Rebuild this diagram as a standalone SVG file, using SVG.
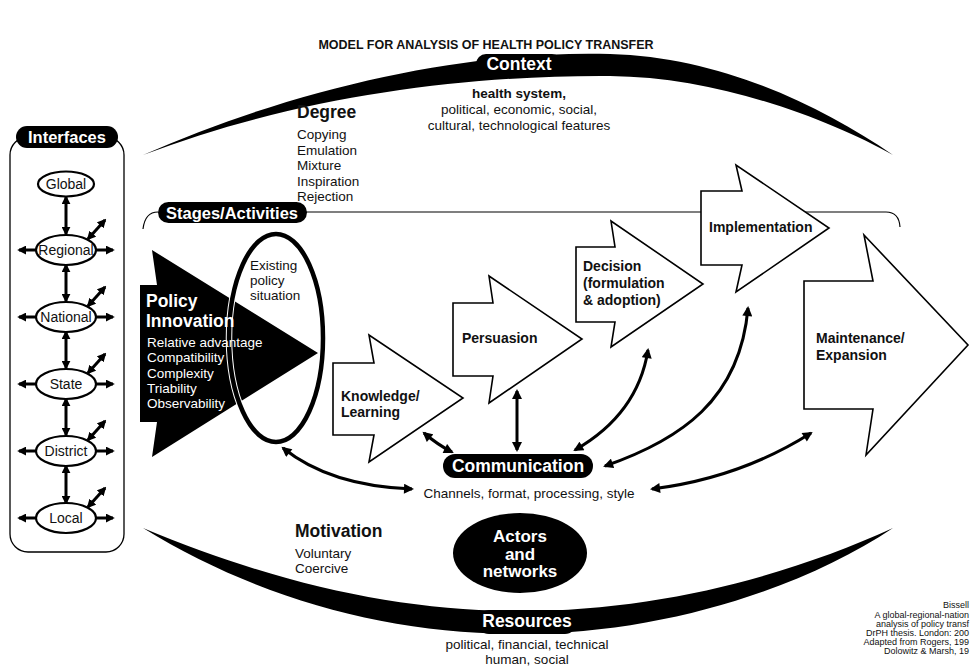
<svg xmlns="http://www.w3.org/2000/svg" width="971" height="666" viewBox="0 0 971 666">
<defs>
<style>
text{font-family:"Liberation Sans",Arial,sans-serif;fill:#111}
.b{font-weight:bold}
.w{fill:#fff}
.t13{font-size:13.5px}
.lbl{font-size:14px;font-weight:bold}
.hd{font-size:17.5px;font-weight:bold}
.ol{fill:#fff;stroke:#000;stroke-width:1.6;stroke-linejoin:miter}
.iel{fill:#fff;stroke:#000;stroke-width:2.2}
.ia{fill:none;stroke:#000;stroke-width:3;marker-start:url(#ah);marker-end:url(#ah)}
.ia1{fill:none;stroke:#000;stroke-width:3;marker-end:url(#ah)}
.con{fill:none;stroke:#000;stroke-width:3;marker-start:url(#ah2);marker-end:url(#ah2)}
.itx{font-size:14px;text-anchor:middle}
.cite{font-size:9px;text-anchor:end}
</style>
<marker id="ah" viewBox="0 0 10 10" refX="8" refY="5" markerUnits="userSpaceOnUse" markerWidth="9" markerHeight="9" orient="auto-start-reverse"><path d="M0,0 L10,5 L0,10 Z" fill="#000"/></marker>
<marker id="ah2" viewBox="0 0 10 10" refX="8" refY="5" markerUnits="userSpaceOnUse" markerWidth="11" markerHeight="10" orient="auto-start-reverse"><path d="M0,0 L10,5 L0,10 Z" fill="#000"/></marker>
</defs>
<rect width="971" height="666" fill="#fff"/>

<text x="486" y="49" text-anchor="middle" class="b" style="font-size:12.5px">MODEL FOR ANALYSIS OF HEALTH POLICY TRANSFER</text>

<g id="context">
<path d="M143,155 C300,86 470,50 610,54 C720,57 820,105 893,155 C830,120 720,77 610,76 C470,75 300,95 143,155 Z" fill="#000"/>
<rect x="476" y="54" width="86" height="21" rx="10" fill="#000"/>
<text x="519" y="70" text-anchor="middle" class="hd w">Context</text>
<text x="519" y="98" text-anchor="middle" class="t13 b">health system,</text>
<text x="519" y="114" text-anchor="middle" class="t13">political, economic, social,</text>
<text x="519" y="130" text-anchor="middle" class="t13">cultural, technological features</text>
</g>

<g id="degree">
<text x="297" y="118" class="hd">Degree</text>
<text x="297" y="139" class="t13">Copying</text>
<text x="297" y="155" class="t13">Emulation</text>
<text x="297" y="170" class="t13">Mixture</text>
<text x="297" y="186" class="t13">Inspiration</text>
<text x="297" y="201" class="t13">Rejection</text>
</g>

<g id="resources">
<path d="M143,528 C280,585 400,611 520,611 C660,611 790,575 893,528 C800,590 660,634 520,634 C390,634 260,600 143,528 Z" fill="#000"/>
<rect x="478" y="610" width="98" height="24" rx="11" fill="#000"/>
<text x="527" y="627" text-anchor="middle" class="hd w">Resources</text>
<text x="527" y="649" text-anchor="middle" class="t13">political, financial, technical</text>
<text x="527" y="664" text-anchor="middle" class="t13">human, social</text>
</g>

<g id="interfaces">
<rect x="10" y="137" width="114" height="415" rx="18" fill="none" stroke="#000" stroke-width="1.3"/>
<rect x="16" y="126" width="102" height="22" rx="11" fill="#000"/>
<text x="67" y="143" text-anchor="middle" class="w b" style="font-size:16.5px">Interfaces</text>
</g>

<g id="interface-arrows">
<line x1="66" y1="197" x2="66" y2="234" class="ia"/>
<line x1="66" y1="265" x2="66" y2="301" class="ia"/>
<line x1="66" y1="332" x2="66" y2="368" class="ia"/>
<line x1="66" y1="399" x2="66" y2="435" class="ia"/>
<line x1="66" y1="466" x2="66" y2="503" class="ia"/>
<g id="side-arrows">
<line x1="36" y1="250" x2="19" y2="250" class="ia1"/><line x1="96" y1="250" x2="113" y2="250" class="ia1"/><line x1="88" y1="239" x2="105" y2="220" class="ia"/>
<line x1="36" y1="317" x2="19" y2="317" class="ia1"/><line x1="96" y1="317" x2="113" y2="317" class="ia1"/><line x1="88" y1="306" x2="105" y2="287" class="ia"/>
<line x1="36" y1="384" x2="19" y2="384" class="ia1"/><line x1="96" y1="384" x2="113" y2="384" class="ia1"/><line x1="88" y1="373" x2="105" y2="354" class="ia"/>
<line x1="36" y1="451" x2="19" y2="451" class="ia1"/><line x1="96" y1="451" x2="113" y2="451" class="ia1"/><line x1="88" y1="440" x2="105" y2="421" class="ia"/>
<line x1="36" y1="518" x2="19" y2="518" class="ia1"/><line x1="96" y1="518" x2="113" y2="518" class="ia1"/><line x1="88" y1="507" x2="105" y2="488" class="ia"/>
</g>
</g>
<g id="global"><ellipse cx="66" cy="184" rx="28" ry="12.5" class="iel"/><text x="66" y="189" class="itx">Global</text></g>
<g id="regional"><ellipse cx="66" cy="250" rx="30" ry="15" class="iel"/><text x="66" y="255" class="itx">Regional</text></g>
<g id="national"><ellipse cx="66" cy="317" rx="30" ry="15" class="iel"/><text x="66" y="322" class="itx">National</text></g>
<g id="state"><ellipse cx="66" cy="384" rx="30" ry="15" class="iel"/><text x="66" y="389" class="itx">State</text></g>
<g id="district"><ellipse cx="66" cy="451" rx="30" ry="15" class="iel"/><text x="66" y="456" class="itx">District</text></g>
<g id="local"><ellipse cx="66" cy="518" rx="30" ry="15" class="iel"/><text x="66" y="523" class="itx">Local</text></g>

<g id="stages">
<path d="M158,212 Q145,212 143,229" fill="none" stroke="#000" stroke-width="1.2"/>
<path d="M306,212 L886,212 Q899,212 900,227" fill="none" stroke="#000" stroke-width="1.2"/>
<rect x="158" y="202" width="149" height="21" rx="10.5" fill="#000"/>
<text x="232" y="219" text-anchor="middle" class="w b" style="font-size:16.5px">Stages/Activities</text>
</g>

<g id="policy-innovation">
<path d="M140,285 L157,285 L152,250 L318,353 L152,457 L157,422 L140,422 Z" fill="#000"/>
</g>

<g id="existing-policy">
<ellipse cx="276" cy="338" rx="47" ry="104" fill="none" stroke="#fff" stroke-width="6.5"/>
<ellipse cx="276" cy="338" rx="47" ry="104" fill="none" stroke="#000" stroke-width="4.5"/>
<text x="250" y="270" class="t13">Existing</text>
<text x="250" y="285" class="t13">policy</text>
<text x="250" y="300" class="t13">situation</text>
</g>

<g id="policy-innovation-text">
<text x="146" y="307" class="hd w">Policy</text>
<text x="146" y="327" class="hd w">Innovation</text>
<text x="147" y="347" class="t13 w">Relative advantage</text>
<text x="147" y="362" class="t13 w">Compatibility</text>
<text x="147" y="378" class="t13 w">Complexity</text>
<text x="147" y="393" class="t13 w">Triability</text>
<text x="147" y="408" class="t13 w">Observability</text>
</g>

<g id="knowledge">
<path d="M333,363 L374,363 L369,335 L463,398 L369,462 L374,435 L333,435 Z" class="ol"/>
<text x="341" y="401" class="lbl">Knowledge/</text>
<text x="341" y="417" class="lbl">Learning</text>
</g>
<g id="persuasion">
<path d="M453,303 L493,303 L489,276 L582,339 L489,403 L493,376 L453,376 Z" class="ol"/>
<text x="462" y="343" class="lbl">Persuasion</text>
</g>
<g id="decision">
<path d="M576,247 L615,247 L611,221 L703,284 L611,347 L615,322 L576,322 Z" class="ol"/>
<text x="583" y="271" class="lbl">Decision</text>
<text x="583" y="288" class="lbl">(formulation</text>
<text x="583" y="305" class="lbl">&amp; adoption)</text>
</g>
<g id="implementation">
<path d="M701,191 L742,191 L736,165 L829,228 L736,292 L742,265 L701,265 Z" class="ol"/>
<text x="709" y="232" class="lbl">Implementation</text>
</g>
<g id="maintenance">
<path d="M804,281 L873,281 L864,235 L968,345 L866,455 L873,409 L804,409 Z" class="ol"/>
<text x="816" y="343" class="lbl">Maintenance/</text>
<text x="816" y="360" class="lbl">Expansion</text>
</g>

<g id="connectors">
<path d="M283,448 Q330,486 412,489" class="con"/>
<path d="M424,433 Q438,445 452,452" class="con"/>
<path d="M517,391 L517,450" class="con"/>
<path d="M575,450 C610,430 640,400 648,350" class="con"/>
<path d="M605,466 C680,440 740,400 748,308" class="con"/>
<path d="M652,489 Q740,478 811,433" class="con"/>
</g>

<g id="communication">
<rect x="443" y="454" width="150" height="24" rx="12" fill="#000"/>
<text x="518" y="472" text-anchor="middle" class="hd w">Communication</text>
<text x="529" y="498" text-anchor="middle" class="t13">Channels, format, processing, style</text>
</g>

<g id="actors">
<ellipse cx="520" cy="553" rx="67" ry="40" fill="#000"/>
<text x="520" y="542" text-anchor="middle" class="w b" style="font-size:17px">Actors</text>
<text x="520" y="559.5" text-anchor="middle" class="w b" style="font-size:17px">and</text>
<text x="520" y="577" text-anchor="middle" class="w b" style="font-size:17px">networks</text>
</g>

<g id="motivation">
<text x="295" y="537" class="hd">Motivation</text>
<text x="295" y="558" class="t13">Voluntary</text>
<text x="295" y="573" class="t13">Coercive</text>
</g>

<g id="citation">
<text x="969" y="608" class="cite">Bissell</text>
<text x="969" y="618" class="cite">A global-regional-nation</text>
<text x="969" y="627" class="cite">analysis of policy transf</text>
<text x="969" y="636" class="cite">DrPH thesis. London: 200</text>
<text x="969" y="645" class="cite">Adapted from Rogers, 199</text>
<text x="969" y="654" class="cite">Dolowitz &amp; Marsh, 19</text>
</g>
</svg>
